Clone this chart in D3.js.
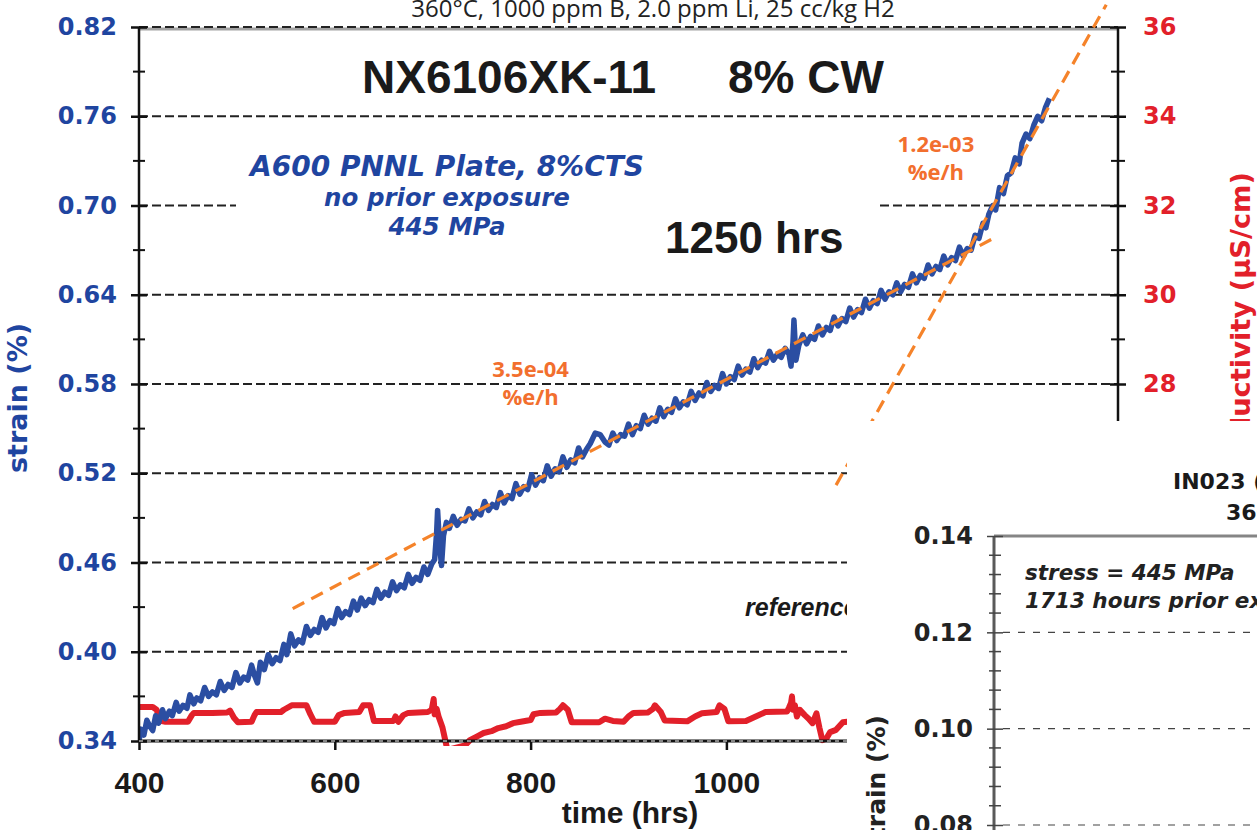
<!DOCTYPE html>
<html><head><meta charset="utf-8">
<script src="https://cdn.jsdelivr.net/npm/d3@7/dist/d3.min.js"></script>
<style>body{margin:0;background:#fff}svg{display:block}</style>
</head><body>
<svg id="c" width="1257" height="830"></svg>
<script>
// ---------- data ----------
const strainTicks = [0.34,0.40,0.46,0.52,0.58,0.64,0.70,0.76,0.82];
const strainMinor = [0.37,0.43,0.49,0.55,0.61,0.67,0.73,0.79];
const condTicks = [20,22,24,26,28,30,32,34,36];
const condMinor = [21,23,25,27,29,31,33,35];
const timeTicks = [400,600,800,1000];
const insetTicks = [0.08,0.10,0.12,0.14];
const insetMinor = [0.084,0.088,0.092,0.096,0.104,0.108,0.112,0.116,0.124,0.128,0.132,0.136];

// strain (%) vs time (hrs)
const strainData = [
[400,0.340],[402,0.348],[405,0.344],[408,0.354],[411,0.350],[414,0.347],[417,0.357],[420,0.352],[424,0.361],[427,0.355],
[431,0.360],[434,0.357],[438,0.366],[441,0.360],[445,0.364],[449,0.362],[452,0.371],[456,0.365],[459,0.369],[463,0.367],
[467,0.376],[471,0.370],[475,0.373],[479,0.371],[483,0.380],[487,0.374],[491,0.378],[495,0.376],[499,0.386],[503,0.379],
[507,0.383],[511,0.381],[515,0.391],[518,0.384],[521,0.379],[524,0.393],[528,0.388],[532,0.398],[536,0.392],[540,0.396],
[544,0.394],[548,0.405],[551,0.398],[555,0.412],[559,0.404],[563,0.408],[567,0.406],[571,0.417],[575,0.411],[579,0.415],
[583,0.413],[587,0.423],[591,0.416],[595,0.421],[599,0.419],[603,0.429],[607,0.423],[611,0.427],[615,0.425],[619,0.434],
[623,0.428],[627,0.436],[631,0.431],[635,0.435],[639,0.433],[643,0.442],[647,0.436],[651,0.440],[655,0.438],[659,0.447],
[663,0.441],[667,0.445],[671,0.443],[675,0.452],[679,0.446],[683,0.450],[687,0.448],[691,0.457],[695,0.452],[699,0.459],
[702,0.462],[704,0.480],[705,0.495],[707,0.472],[709,0.458],[711,0.478],[714,0.487],[717,0.483],[721,0.491],[725,0.485],
[729,0.489],[733,0.488],[737,0.496],[741,0.490],[745,0.494],[749,0.492],[753,0.501],[757,0.495],[761,0.499],[765,0.497],
[769,0.507],[773,0.500],[777,0.505],[781,0.503],[785,0.513],[789,0.506],[793,0.511],[797,0.509],[801,0.519],[805,0.512],
[809,0.517],[813,0.515],[817,0.525],[821,0.518],[825,0.523],[829,0.521],[833,0.531],[837,0.524],[841,0.529],[845,0.527],
[849,0.537],[853,0.531],[857,0.536],[861,0.540],[866,0.547],[871,0.546],[876,0.541],[880,0.539],[884,0.547],[888,0.542],
[892,0.546],[896,0.545],[900,0.553],[904,0.546],[908,0.552],[912,0.550],[916,0.559],[920,0.553],[924,0.557],[928,0.555],
[932,0.564],[936,0.558],[940,0.563],[944,0.561],[948,0.570],[952,0.564],[956,0.568],[960,0.566],[964,0.575],[968,0.569],
[972,0.574],[976,0.572],[980,0.581],[984,0.575],[988,0.579],[992,0.577],[996,0.587],[1000,0.580],[1004,0.585],[1008,0.583],
[1012,0.592],[1016,0.586],[1020,0.590],[1024,0.588],[1028,0.597],[1032,0.591],[1036,0.596],[1040,0.594],[1044,0.602],[1048,0.596],
[1052,0.600],[1056,0.598],[1060,0.604],[1064,0.600],[1066,0.592],[1068,0.608],[1069,0.623],[1070,0.610],[1071,0.596],[1074,0.606],
[1078,0.613],[1082,0.607],[1086,0.612],[1090,0.610],[1094,0.619],[1098,0.613],[1102,0.618],[1106,0.616],[1110,0.625],[1114,0.619],
[1118,0.624],[1122,0.622],[1126,0.631],[1130,0.625],[1134,0.630],[1138,0.628],[1142,0.637],[1146,0.631],[1150,0.636],[1154,0.634],
[1158,0.643],[1162,0.637],[1166,0.642],[1170,0.640],[1174,0.648],[1178,0.642],[1182,0.647],[1186,0.645],[1190,0.654],[1194,0.648],
[1198,0.653],[1202,0.651],[1206,0.660],[1210,0.654],[1214,0.659],[1218,0.657],[1222,0.666],[1226,0.660],[1230,0.665],[1234,0.663],
[1238,0.672],[1242,0.666],[1246,0.671],[1250,0.670],[1254,0.680],[1258,0.678],[1262,0.688],[1265,0.685],[1268,0.694],[1272,0.700],
[1275,0.697],[1279,0.712],[1283,0.708],[1287,0.720],[1291,0.722],[1295,0.732],[1299,0.728],[1302,0.742],[1306,0.748],[1310,0.745],
[1314,0.754],[1318,0.760],[1322,0.757],[1326,0.766],[1330,0.772]
];

// conductivity (uS/cm) vs time (hrs)
const condData = [
[400,20.76],[414,20.76],[418,20.70],[422,20.45],[427,20.43],[450,20.43],[454,20.58],[456,20.63],[475,20.63],[490,20.64],
[493,20.68],[497,20.52],[501,20.42],[515,20.43],[518,20.58],[520,20.65],[545,20.65],[548,20.70],[556,20.80],[571,20.80],
[575,20.60],[579,20.43],[600,20.43],[604,20.58],[610,20.63],[625,20.65],[629,20.80],[636,20.80],[640,20.45],[660,20.45],
[662,20.55],[665,20.43],[670,20.58],[675,20.63],[695,20.65],[699,20.70],[701,20.94],[702,20.60],[704,20.72],[706,20.55],
[710,20.30],[713,20.00],[715,19.80],[733,19.90],[738,20.02],[745,20.10],[752,20.18],[760,20.22],[767,20.29],[775,20.33],
[782,20.40],[790,20.43],[800,20.47],[803,20.60],[810,20.63],[826,20.64],[830,20.72],[833,20.80],[838,20.70],[842,20.42],
[870,20.42],[876,20.50],[884,20.45],[895,20.43],[900,20.55],[905,20.63],[920,20.64],[925,20.72],[927,20.80],[933,20.65],
[937,20.46],[960,20.44],[968,20.55],[975,20.62],[990,20.65],[993,20.80],[998,20.72],[1002,20.44],[1020,20.45],[1030,20.55],
[1040,20.65],[1062,20.66],[1064,20.75],[1066,20.85],[1067,21.00],[1068,20.70],[1070,20.80],[1072,20.55],[1075,20.70],[1080,20.58],
[1084,20.50],[1088,20.40],[1092,20.62],[1095,20.30],[1098,20.02],[1102,20.05],[1106,20.20],[1112,20.25],[1119,20.42],[1130,20.45]
];

// creep-rate fit lines (time, strain)
const fitLow = [[557,0.429],[1273,0.678]];
const fitHigh = [[1112,0.512],[1388,0.835]];
const fitLowLabel = ["3.5e-04","%e/h"];
const fitHighLabel = ["1.2e-03","%e/h"];

// ---------- drawing ----------
const svg = d3.select("#c");
const BLUE = "#2B4EA2", BLUE_T = "#1F45A0", RED = "#E2202A", ORANGE = "#F5832A", ORANGE_T = "#F26F2E", INK = "#1a1a1a";
const DV = "'DejaVu Sans', Verdana, sans-serif";
const LS = "'Liberation Sans', Arial, sans-serif";
const OS = "'Open Sans', sans-serif";

const x = d3.scaleLinear().domain([400,1400]).range([139,1118]);
const yS = d3.scaleLinear().domain([0.34,0.82]).range([741,27]);
const yC = d3.scaleLinear().domain([20,36]).range([741,27]);

// top subtitle (clipped)
svg.append("text").attr("x",653).attr("y",17).attr("text-anchor","middle")
  .attr("font-family",OS).attr("font-size",24).attr("fill","#222")
  .text("360°C, 1000 ppm B, 2.0 ppm Li, 25 cc/kg H2");

// top gray border
svg.append("line").attr("x1",x(400)).attr("x2",x(1400)).attr("y1",yS(0.82)+2).attr("y2",yS(0.82)+2)
  .attr("stroke","#a3a3a3").attr("stroke-width",3);

// gridlines
svg.append("g").selectAll("line").data(strainTicks.slice(1)).join("line")
  .attr("x1",x(400)).attr("x2",x(1400)).attr("y1",d=>yS(d)).attr("y2",d=>yS(d))
  .attr("stroke","#222").attr("stroke-width",2.2).attr("stroke-dasharray","9,4");

// white box behind text block
svg.append("rect").attr("x",236).attr("y",130).attr("width",643).attr("height",150).attr("fill","#fff");

// titles
svg.append("text").attr("x",362).attr("y",93).attr("font-family",LS).attr("font-weight","bold")
  .attr("font-size",46).attr("fill",INK).text("NX6106XK-11");
svg.append("text").attr("x",728).attr("y",93).attr("font-family",LS).attr("font-weight","bold")
  .attr("font-size",46).attr("fill",INK).text("8% CW");
svg.append("text").attr("x",665).attr("y",253).attr("font-family",LS).attr("font-weight","bold")
  .attr("font-size",44).attr("fill",INK).text("1250 hrs");

const blueNotes = [["A600 PNNL Plate, 8%CTS",176,28],["no prior exposure",206,24.5],["445 MPa",235,24.5]];
svg.append("g").selectAll("text").data(blueNotes).join("text")
  .attr("x",447).attr("y",d=>d[1]).attr("text-anchor","middle").attr("font-family",DV)
  .attr("font-weight","bold").attr("font-style","italic").attr("font-size",d=>d[2]).attr("fill",BLUE_T)
  .text(d=>d[0]);

svg.append("text").attr("x",745).attr("y",616).attr("font-family",LS).attr("font-weight","bold")
  .attr("font-style","italic").attr("font-size",25).attr("fill",INK).text("reference");

// fit labels
function fitText(lines, cx, y0){
  svg.append("g").selectAll("text").data(lines).join("text")
    .attr("x",cx).attr("y",(d,i)=>y0+i*28).attr("text-anchor","middle")
    .attr("font-family",OS).attr("font-weight","bold").attr("font-size",22).attr("fill",ORANGE_T).text(d=>d);
}
fitText(fitLowLabel, x(800), 377);
fitText(fitHighLabel, x(1214), 152);

// clipped plot area
svg.append("clipPath").attr("id","plot").append("rect").attr("x",x(400)).attr("y",0)
  .attr("width",x(1400)-x(400)).attr("height",746);
const plot = svg.append("g").attr("clip-path","url(#plot)");

const lineS = d3.line().x(d=>x(d[0])).y(d=>yS(d[1]));
const lineC = d3.line().x(d=>x(d[0])).y(d=>yC(d[1]));

plot.append("path").datum(condData).attr("d",lineC).attr("fill","none").attr("stroke",RED)
  .attr("stroke-width",6).attr("stroke-linejoin","round");
plot.append("path").datum(strainData).attr("d",lineS).attr("fill","none").attr("stroke",BLUE)
  .attr("stroke-width",5.5).attr("stroke-linejoin","round");
[fitLow, fitHigh].forEach(f=>{
  plot.append("path").datum(f).attr("d",lineS).attr("fill","none").attr("stroke",ORANGE)
    .attr("stroke-width",3.2).attr("stroke-dasharray","13,8");
});

// left axis
const gL = svg.append("g").attr("transform",`translate(${x(400)},0)`)
  .call(d3.axisLeft(yS).tickValues(strainTicks).tickFormat(d3.format(".2f")).tickSize(8).tickPadding(14));
gL.select(".domain").attr("d",`M0,${yS(0.82)}V${yS(0.34)}`).attr("stroke","#111").attr("stroke-width",2.5);
gL.selectAll(".tick line").attr("x1",8).attr("x2",-8).attr("stroke","#111").attr("stroke-width",2.5);
gL.selectAll(".tick text").attr("font-family",DV).attr("font-weight","bold").attr("font-size",24).attr("fill",BLUE_T);
gL.append("g").selectAll("line").data(strainMinor).join("line")
  .attr("x1",-6).attr("x2",6).attr("y1",d=>yS(d)).attr("y2",d=>yS(d)).attr("stroke","#111").attr("stroke-width",2);

// right axis
const gR = svg.append("g").attr("transform",`translate(${x(1400)},0)`)
  .call(d3.axisRight(yC).tickValues(condTicks).tickFormat(d3.format("d")).tickSize(8).tickPadding(17));
gR.select(".domain").attr("d",`M0,${yC(36)}V${yC(20)}`).attr("stroke","#111").attr("stroke-width",2.5);
gR.selectAll(".tick line").attr("x1",-8).attr("x2",8).attr("stroke","#111").attr("stroke-width",2.5);
gR.selectAll(".tick text").attr("font-family",DV).attr("font-weight","bold").attr("font-size",24).attr("fill",RED);
gR.append("g").selectAll("line").data(condMinor).join("line")
  .attr("x1",-7).attr("x2",7).attr("y1",d=>yC(d)).attr("y2",d=>yC(d)).attr("stroke","#111").attr("stroke-width",2);

// bottom axis
const gB = svg.append("g").attr("transform",`translate(0,${yS(0.34)})`)
  .call(d3.axisBottom(x).tickValues(timeTicks).tickFormat(d3.format("d")).tickSize(9).tickPadding(22));
gB.select(".domain").attr("d",`M${x(400)},0H${x(1400)}`).attr("stroke","#111").attr("stroke-width",3);
gB.selectAll(".tick line").attr("stroke","#111").attr("stroke-width",2.5);
gB.selectAll(".tick text").attr("font-family",LS).attr("font-weight","bold").attr("font-size",30).attr("fill",INK);
gB.append("line").attr("x1",x(400)).attr("x2",x(1400)).attr("y1",0).attr("y2",0)
  .attr("stroke","#fff").attr("stroke-width",1).attr("stroke-dasharray","4,4");

// axis titles
svg.append("text").attr("x",630).attr("y",823).attr("text-anchor","middle").attr("font-family",LS)
  .attr("font-weight","bold").attr("font-size",30).attr("fill",INK).text("time (hrs)");
svg.append("text").attr("transform","translate(27,398) rotate(-90)").attr("text-anchor","middle")
  .attr("font-family",DV).attr("font-weight","bold").attr("font-size",27).attr("fill",BLUE_T).text("strain (%)");
svg.append("text").attr("transform","translate(1250,172) rotate(-90)").attr("text-anchor","end")
  .attr("font-family",DV).attr("font-weight","bold").attr("font-size",27.3).attr("fill",RED).text("conductivity (µS/cm)");

// ---------- overlapping second chart ----------
svg.append("rect").attr("x",847).attr("y",421).attr("width",410).attr("height",409).attr("fill","#fff");

const yI = d3.scaleLinear().domain([0.08,0.14]).range([825,536]);
const ix0 = 994;

svg.append("text").attr("x",1173).attr("y",489).attr("font-family",DV).attr("font-weight","bold")
  .attr("font-size",22).attr("fill",INK).text("IN023 (");
svg.append("text").attr("x",1226).attr("y",520).attr("font-family",DV).attr("font-weight","bold")
  .attr("font-size",22).attr("fill",INK).text("360");

svg.append("g").selectAll("line").data(insetTicks.slice(0,3)).join("line")
  .attr("x1",ix0+9).attr("x2",1257).attr("y1",d=>yI(d)).attr("y2",d=>yI(d))
  .attr("stroke","#444").attr("stroke-width",1.2).attr("stroke-dasharray","7,8");
svg.append("line").attr("x1",ix0).attr("x2",1257).attr("y1",yI(0.14)).attr("y2",yI(0.14))
  .attr("stroke","#858585").attr("stroke-width",3);

const gI = svg.append("g").attr("transform",`translate(${ix0},0)`)
  .call(d3.axisLeft(yI).tickValues(insetTicks).tickFormat(d3.format(".2f")).tickSize(7).tickPadding(14));
gI.select(".domain").attr("d",`M0,${yI(0.14)}V830`).attr("stroke","#5a5a5a").attr("stroke-width",3);
gI.selectAll(".tick line").attr("x1",-7).attr("x2",9).attr("stroke","#444").attr("stroke-width",1.5);
gI.selectAll(".tick text").attr("font-family",DV).attr("font-weight","bold").attr("font-size",24).attr("fill","#222");
gI.append("g").selectAll("line").data(insetMinor).join("line")
  .attr("x1",-5).attr("x2",7).attr("y1",d=>yI(d)).attr("y2",d=>yI(d)).attr("stroke","#444").attr("stroke-width",1.5);

svg.append("text").attr("transform","translate(885,715) rotate(-90)").attr("text-anchor","end")
  .attr("font-family",DV).attr("font-weight","bold").attr("font-size",25).attr("fill","#222").text("strain (%)");

const insetNotes = [["stress = 445 MPa",580],["1713 hours prior ex",608]];
svg.append("g").selectAll("text").data(insetNotes).join("text")
  .attr("x",1025).attr("y",d=>d[1]).attr("font-family",DV).attr("font-weight","bold")
  .attr("font-style","italic").attr("font-size",21.5).attr("fill","#222").text(d=>d[0]);
</script>
</body></html>
